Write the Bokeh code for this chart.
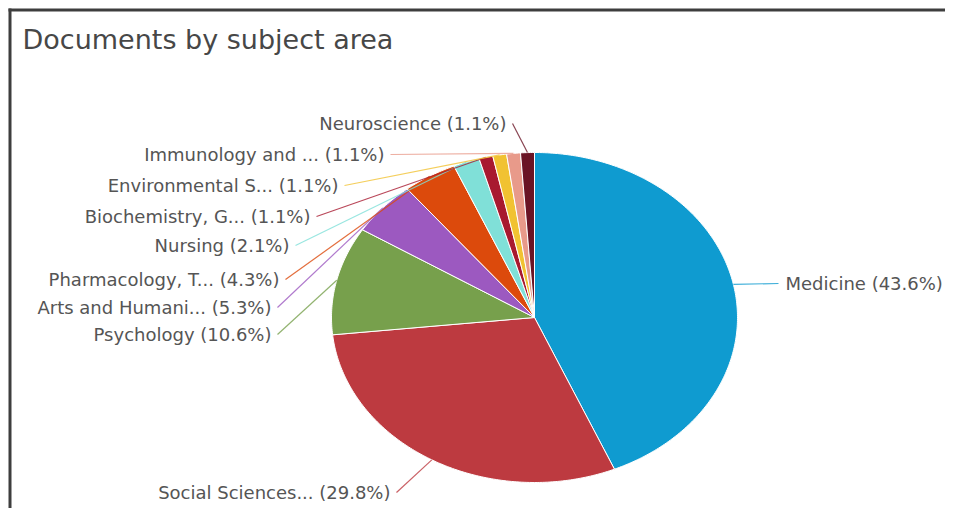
import numpy as np
from bokeh.plotting import figure
from bokeh.models import Range1d, ColumnDataSource, BoxAnnotation
from bokeh.embed import file_html
from bokeh.resources import INLINE
from bokeh.core.properties import value

# ---------------- data ----------------
subjects = ["Medicine", "Social Sciences...", "Psychology", "Arts and Humani...",
            "Pharmacology, T...", "Nursing", "Biochemistry, G...", "Environmental S...",
            "Immunology and ...", "Neuroscience"]
percent = [43.6, 29.8, 10.6, 5.3, 4.3, 2.1, 1.1, 1.1, 1.1, 1.1]
colors = ["#0f9bd0", "#bd3a40", "#77a04c", "#9c59c0", "#dc4a0c",
          "#80e0d8", "#a8192f", "#f1c232", "#e89a8a", "#6a1425"]
title_text = "Documents by subject area"

# ---------------- layout ----------------
W, H = 945, 508
CX, CY, RX, RY = 534, 317, 203, 165
# label anchor (x, y, align) in screen pixels
label_pos = [(785, 283, "left"), (390, 492, "right"), (271, 334, "right"),
             (271, 307, "right"), (279, 279, "right"), (289, 245, "right"),
             (310, 216, "right"), (338, 185, "right"), (384, 154, "right"),
             (506, 123, "right")]

p = figure(width=W, height=H, output_backend="svg", toolbar_location=None,
           x_range=Range1d(0, W), y_range=Range1d(H, 0), min_border=0)
p.axis.visible = False
p.grid.visible = False
p.outline_line_color = None
p.background_fill_color = "white"
p.border_fill_color = "white"

# frame border (left and top)
p.add_layout(BoxAnnotation(left=8, right=11, top=8, bottom=H + 20,
                           fill_color="#3e3e3e", fill_alpha=1, line_color=None))
p.add_layout(BoxAnnotation(left=8, right=W + 20, top=8, bottom=11,
                           fill_color="#3e3e3e", fill_alpha=1, line_color=None))

vals = np.array(percent, dtype=float)
frac = vals / vals.sum()
ends = np.cumsum(frac) * 2 * np.pi
starts = ends - frac * 2 * np.pi

xs, ys = [], []
for a0, a1 in zip(starts, ends):
    t = np.linspace(a0, a1, max(8, int((a1 - a0) * 80)))
    xs.append(np.concatenate([[CX], CX + RX * np.sin(t), [CX]]))
    ys.append(np.concatenate([[CY], CY - RY * np.cos(t), [CY]]))

p.patches(xs=xs, ys=ys, fill_color=colors, line_color="white", line_width=1)

# connectors
mids = (starts + ends) / 2
ex = CX + RX * np.sin(mids)
ey = CY - RY * np.cos(mids)
x0, y0 = [], []
for (lx, ly, al) in label_pos:
    x0.append(lx - 7 if al == "left" else lx + 6)
    y0.append(ly)
p.segment(x0=x0, y0=y0, x1=ex, y1=ey, line_color=colors, line_width=1.2, line_alpha=0.8)

labels = [f"{s} ({v}%)" for s, v in zip(subjects, percent)]
src = ColumnDataSource(dict(x=[l[0] for l in label_pos], y=[l[1] for l in label_pos],
                            text=labels, align=[l[2] for l in label_pos]))
p.text(x="x", y="y", text="text", text_align="align", text_baseline="middle",
       source=src, text_font=value("DejaVu Sans"), text_font_size="18px",
       text_color="#555555")

p.text(x=[22], y=[39], text=[title_text], text_align="left", text_baseline="middle",
       text_font=value("DejaVu Sans"), text_font_size="27px", text_color="#474747")

open("out.html", "w").write(file_html(p, INLINE))
